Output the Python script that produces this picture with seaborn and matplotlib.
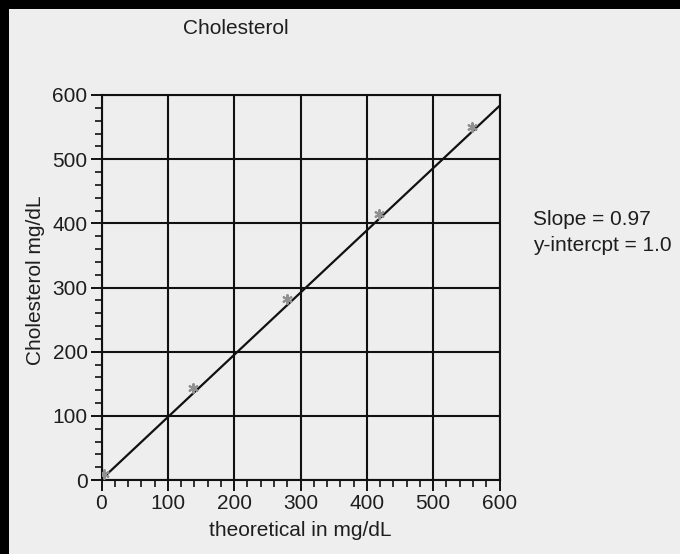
import numpy as np
import pandas as pd
import matplotlib
matplotlib.use("Agg")
import matplotlib.pyplot as plt
from matplotlib.ticker import MultipleLocator
from matplotlib.patches import Rectangle
import seaborn as sns

# ---- data ----
theoretical = [4, 138, 279, 418, 558]
measured = [9, 143, 282, 415, 550]
slope = 0.97
intercept = 1.0
fit_x = [0, 600]
x_ticks = [0, 100, 200, 300, 400, 500, 600]
y_ticks = [0, 100, 200, 300, 400, 500, 600]
title = "Cholesterol"
x_label = "theoretical in mg/dL"
y_label = "Cholesterol mg/dL"
stats_lines = ["Slope = 0.97", "y-intercpt = 1.0"]

sns.set_style("white")
plt.rcParams['font.family'] = ['Liberation Sans', 'DejaVu Sans']

W, H = 680, 554
bg = "#eeeeee"
txt = "#1e1e1e"
fs = 15
fig = plt.figure(figsize=(W / 100, H / 100), dpi=100, facecolor=bg)
ax = fig.add_axes([101.5 / W, 1 - 480 / H, 398 / W, 385 / H])
ax.set_facecolor(bg)

# scan border strips (top and left)
fig.add_artist(Rectangle((0, 1 - 9 / H), 1, 9 / H, transform=fig.transFigure,
                         facecolor="black", edgecolor="none", zorder=0))
fig.add_artist(Rectangle((0, 0), 9 / W, 1, transform=fig.transFigure,
                         facecolor="black", edgecolor="none", zorder=0))

df = pd.DataFrame({"theoretical": theoretical, "measured": measured})
fit = pd.DataFrame({"x": fit_x, "y": [slope * v + intercept for v in fit_x]})

sns.lineplot(data=fit, x="x", y="y", ax=ax, color="#111111", linewidth=1.6, zorder=3)
sns.scatterplot(data=df, x="theoretical", y="measured", ax=ax, marker=(6, 2, 0),
                s=40, color="#909090", edgecolor="#909090", linewidth=1.5, zorder=4)

ax.set_xlim(0, 600)
ax.set_ylim(0, 600)
ax.set_xticks(x_ticks)
ax.set_yticks(y_ticks)
ax.xaxis.set_minor_locator(MultipleLocator(20))
ax.yaxis.set_minor_locator(MultipleLocator(20))
ax.tick_params(axis="both", which="both", bottom=True, left=True, top=False, right=False)
ax.tick_params(axis="both", which="major", direction="out", length=8, width=1.4,
               color="#111111", labelsize=fs, labelcolor=txt, pad=2)
ax.tick_params(axis="both", which="minor", direction="out", length=5, width=1.2,
               color="#111111")
ax.grid(True, which="major", color="#111111", linewidth=1.5)
ax.grid(False, which="minor")
for s in ax.spines.values():
    s.set_color("#111111")
    s.set_linewidth(1.5)

ax.set_xlabel("")
ax.set_ylabel("")
fig.text(300 / W, 1 - 530 / H, x_label, fontsize=fs, color=txt, ha="center", va="center")
fig.text(36 / W, 1 - 280 / H, y_label, fontsize=fs, color=txt, ha="center", va="center",
         rotation=90)

fig.text(236 / W, 1 - 28 / H, title, fontsize=fs, color=txt, ha="center", va="center")
fig.text(533 / W, 1 - 219 / H, stats_lines[0], fontsize=fs, color=txt,
         ha="left", va="center")
fig.text(533 / W, 1 - 245 / H, stats_lines[1], fontsize=fs, color=txt,
         ha="left", va="center")

fig.savefig("out.png", dpi=100, facecolor=bg)
